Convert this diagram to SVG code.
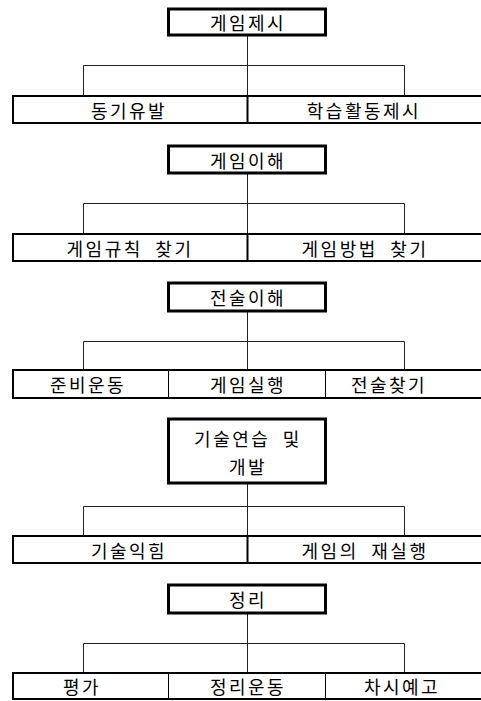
<svg xmlns="http://www.w3.org/2000/svg" width="481" height="701" viewBox="0 0 481 701">
<style>
  .hd rect { fill: #fff; stroke: #000; stroke-width: 3; }
  .bar rect { fill: #fff; stroke: #000; stroke-width: 2; }
  .div2 { stroke: #000; stroke-width: 2; }
  .div3 { stroke: #000; stroke-width: 1; }
  text { font-family: "Noto Sans CJK KR", "Noto Sans", sans-serif; font-size: 18px; fill: #000; text-anchor: middle; dominant-baseline: central; letter-spacing: 2.5px; word-spacing: 6px; }
  #connectors path { fill: none; stroke: #222; stroke-width: 1; }
</style>
<rect width="481" height="701" fill="#fff"/>
<g id="connectors">
  <path d="M247.5 35V95.5M83.5 65.5H404.5M83.5 65.5V95.5M404.5 65.5V95.5"/>
  <path d="M247.5 173V233.5M83.5 203.5H404.5M83.5 203.5V233.5M404.5 203.5V233.5"/>
  <path d="M247.5 311V369.5M83.5 341.5H404.5M83.5 341.5V369.5M404.5 341.5V369.5"/>
  <path d="M247.5 483V535.5M83.5 506.5H404.5M83.5 506.5V535.5M404.5 506.5V535.5"/>
  <path d="M247.5 613V672.5M83.5 643.5H404.5M83.5 643.5V672.5M404.5 643.5V672.5"/>
</g>
<g id="n1" class="hd"><rect x="168.5" y="9" width="157" height="26"/><text x="248" y="22">게임제시</text></g>
<g id="n1b" class="bar">
  <rect x="13" y="96" width="470" height="27"/>
  <line class="div2" x1="247.5" y1="96" x2="247.5" y2="123"/>
  <text x="129" y="109.5">동기유발</text>
  <text x="364" y="109.5">학습활동제시</text>
</g>
<g id="n2" class="hd"><rect x="168.5" y="146" width="157" height="27"/><text x="248" y="159.5">게임이해</text></g>
<g id="n2b" class="bar">
  <rect x="13" y="234" width="470" height="27"/>
  <line class="div2" x1="247.5" y1="234" x2="247.5" y2="261"/>
  <text x="130" y="247.5">게임규칙 찾기</text>
  <text x="365" y="247.5">게임방법 찾기</text>
</g>
<g id="n3" class="hd"><rect x="168.5" y="283" width="157" height="28"/><text x="248" y="297">전술이해</text></g>
<g id="n3b" class="bar">
  <rect x="13" y="370" width="470" height="28"/>
  <line class="div3" x1="168.5" y1="370" x2="168.5" y2="398"/>
  <line class="div3" x1="325.5" y1="370" x2="325.5" y2="398"/>
  <text x="88" y="384">준비운동</text>
  <text x="248" y="384">게임실행</text>
  <text x="389" y="384">전술찾기</text>
</g>
<g id="n4" class="hd"><rect x="168.5" y="419" width="157" height="64"/><text x="248" y="438">기술연습 및</text><text x="248" y="466">개발</text></g>
<g id="n4b" class="bar">
  <rect x="13" y="536" width="470" height="27"/>
  <line class="div2" x1="247.5" y1="536" x2="247.5" y2="563"/>
  <text x="129" y="549.5">기술익힘</text>
  <text x="365" y="549.5">게임의 재실행</text>
</g>
<g id="n5" class="hd"><rect x="168.5" y="585" width="157" height="28"/><text x="248" y="599">정리</text></g>
<g id="n5b" class="bar">
  <rect x="13" y="673" width="470" height="26"/>
  <line class="div3" x1="168.5" y1="673" x2="168.5" y2="699"/>
  <line class="div3" x1="325.5" y1="673" x2="325.5" y2="699"/>
  <text x="82" y="686">평가</text>
  <text x="248" y="686">정리운동</text>
  <text x="402" y="686">차시예고</text>
</g>
</svg>
